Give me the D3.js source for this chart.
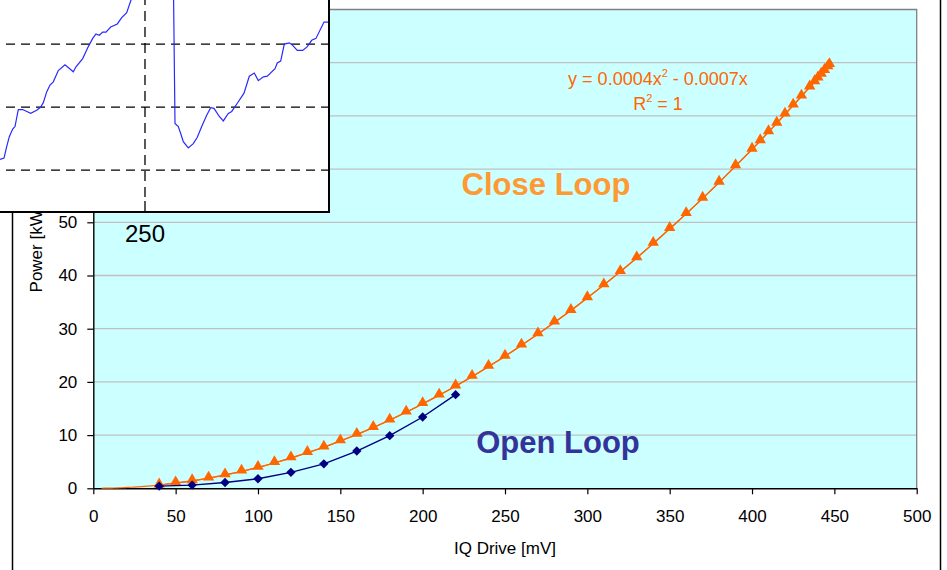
<!DOCTYPE html>
<html>
<head>
<meta charset="utf-8">
<script src="https://cdn.jsdelivr.net/npm/d3@7"></script>
<style>
  body { margin: 0; background: #fff; }
  svg { display: block; }
  text { font-family: "Liberation Sans", Arial, Helvetica, sans-serif; }
</style>
</head>
<body>
<svg id="chart" width="947" height="570"></svg>
<script>
// ---- data ----
// Open-loop measurement: IQ drive [mV] vs. output power [kW]
const driveOpen = [40, 60, 80, 100, 120, 140, 160, 180, 200, 220];
const powerOpen = [0.4, 0.6, 1.1, 1.8, 3.0, 4.6, 7.0, 9.9, 13.4, 17.6];

// Closed-loop measurement
const driveClose = [40, 50, 60, 70, 80, 90, 100, 110, 120, 130, 140, 150, 160, 170, 180, 190,
  200, 210, 220, 230, 240, 250, 260, 270, 280, 290, 300, 310, 320, 330, 340, 350, 360, 370,
  380, 390, 400, 405, 410, 415, 420, 425, 430, 435, 438, 440, 442, 444, 446, 447];
const powerClose = [0.6, 1.0, 1.4, 1.9, 2.5, 3.2, 3.9, 4.8, 5.7, 6.7, 7.7, 8.9, 10.1, 11.4,
  12.8, 14.3, 15.9, 17.5, 19.2, 21.0, 22.9, 24.8, 26.9, 29.0, 31.2, 33.4, 35.8, 38.2, 40.7,
  43.3, 46.0, 48.8, 51.6, 54.5, 57.5, 60.6, 63.7, 65.3, 67.0, 68.6, 70.3, 72.0, 73.7, 75.4,
  76.4, 77.1, 77.8, 78.5, 79.2, 79.6];

// Polynomial trendline of the closed-loop series: y = fitA*x^2 + fitB*x
const fitA = 0.0004, fitB = -0.0007;
const trendStart = 5;

const xTickValues = [0, 50, 100, 150, 200, 250, 300, 350, 400, 450, 500];
const yTickValues = [0, 10, 20, 30, 40, 50, 60, 70, 80, 90];

// Trace shown in the overlaid panel (time axis, signal level)
const traceX = [105, 109, 111.7, 114.3, 117.7, 120, 123.3, 127.7, 135.7, 141.7, 145.7, 148.3,
  151.7, 155, 158.3, 163.3, 170, 178.3, 181, 187.7, 193.3, 197.7, 201, 204.3, 207.7, 211,
  215.7, 222.3, 226.7, 231.7, 236, 241, 251, 263, 275, 277.7, 280, 283.3, 285.7, 288.3, 293.3,
  298.3, 302.3, 306.7, 311.7, 315.7, 319, 324.3, 328.3, 333.3, 336.7, 342.3, 349, 354.3,
  359.3, 363.3, 368.3, 372.3, 380, 382.3, 385.7, 389.3, 394.3, 397.7, 402.3, 407.7, 412.3,
  416.7, 421, 429, 432.3, 436.7];
const traceY = [1.17, 1.19, 1.37, 1.53, 1.65, 1.69, 1.96, 1.96, 1.90, 1.95, 2.00, 2.07,
  2.24, 2.35, 2.40, 2.58, 2.67, 2.56, 2.64, 2.77, 2.96, 3.09, 3.16, 3.14, 3.19, 3.19,
  3.27, 3.32, 3.42, 3.50, 3.70, 4.02, 4.49, 4.81, 4.97, 4.98, 1.74, 1.69, 1.58, 1.45, 1.35,
  1.42, 1.52, 1.69, 1.87, 1.99, 1.98, 1.85, 1.78, 1.90, 1.93, 2.06, 2.22, 2.49, 2.54,
  2.42, 2.48, 2.49, 2.61, 2.70, 2.73, 3.00, 3.02, 2.98, 2.90, 2.90, 2.96, 3.06, 3.09,
  3.35, 3.35, 3.33];
const traceGrid = [1, 2, 3];
const traceMark = 250;

// ---- main chart ----
const svg = d3.select("#chart");
const W = 947, H = 570;
const plot = { left: 93.3, right: 916.7, top: 9.5, bottom: 488.3 };

const x = d3.scaleLinear().domain([0, 500]).range([plot.left, plot.right]);
const y = d3.scaleLinear().domain([0, 90]).range([plot.bottom, plot.top]);

svg.append("rect").attr("width", W).attr("height", H).attr("fill", "#fff");

// outer frame sides
svg.append("line").attr("x1", 12.5).attr("x2", 12.5).attr("y1", 0).attr("y2", H)
  .attr("stroke", "#000").attr("stroke-width", 1.5);
svg.append("line").attr("x1", 940.5).attr("x2", 940.5).attr("y1", 0).attr("y2", H)
  .attr("stroke", "#000").attr("stroke-width", 1.5);

// plot area
svg.append("rect")
  .attr("x", plot.left).attr("y", plot.top)
  .attr("width", plot.right - plot.left).attr("height", plot.bottom - plot.top)
  .attr("fill", "#CCFFFF");

svg.append("g").selectAll("line")
  .data(yTickValues.filter(v => v > 0 && v < 90))
  .join("line")
  .attr("x1", plot.left).attr("x2", plot.right)
  .attr("y1", d => y(d)).attr("y2", d => y(d))
  .attr("stroke", "#C0C0C0").attr("stroke-width", 1.3);

// plot border (top / right)
svg.append("path")
  .attr("d", `M${plot.left},${y(90)}H${plot.right}V${plot.bottom}`)
  .attr("fill", "none").attr("stroke", "#808080").attr("stroke-width", 1.3);

// axes
const xAxis = svg.append("g")
  .attr("transform", `translate(0,${plot.bottom})`)
  .call(d3.axisBottom(x).tickValues(xTickValues).tickSize(6).tickSizeOuter(0).tickPadding(16));
const yAxis = svg.append("g")
  .attr("transform", `translate(${plot.left},0)`)
  .call(d3.axisLeft(y).tickValues(yTickValues).tickSize(6).tickSizeOuter(0).tickPadding(10));
[xAxis, yAxis].forEach(g => {
  g.selectAll("text").attr("font-size", 17).attr("fill", "#000")
    .attr("font-family", '"Liberation Sans", Arial, sans-serif');
  g.selectAll("line").attr("stroke", "#000").attr("stroke-width", 1.2);
  g.select(".domain").attr("stroke", "#000").attr("stroke-width", 1.4);
});

svg.append("text")
  .attr("x", (plot.left + plot.right) / 2).attr("y", 554)
  .attr("text-anchor", "middle").attr("font-size", 17).text("IQ Drive [mV]");
svg.append("text")
  .attr("transform", `translate(42,249) rotate(-90)`)
  .attr("text-anchor", "middle").attr("font-size", 17).text("Power [kW]");

// trendline
const trendX = d3.range(trendStart, driveClose[driveClose.length - 1], 2)
  .concat([driveClose[driveClose.length - 1]]);
svg.append("path")
  .datum(trendX)
  .attr("fill", "none").attr("stroke", "#FF6600").attr("stroke-width", 1.2)
  .attr("d", d3.line().x(d => x(d)).y(d => y(fitA * d * d + fitB * d)));

// closed-loop series
const closePts = driveClose.map((d, i) => [d, powerClose[i]]);
svg.append("path")
  .datum(closePts)
  .attr("fill", "none").attr("stroke", "#FF6600").attr("stroke-width", 1.3)
  .attr("d", d3.line().x(d => x(d[0])).y(d => y(d[1])));
svg.append("g").selectAll("path")
  .data(closePts)
  .join("path")
  .attr("transform", d => `translate(${x(d[0])},${y(d[1]) - 1})`)
  .attr("d", d3.symbol(d3.symbolTriangle, 56))
  .attr("fill", "#FF6600");

// open-loop series
const openPts = driveOpen.map((d, i) => [d, powerOpen[i]]);
svg.append("path")
  .datum(openPts)
  .attr("fill", "none").attr("stroke", "#000080").attr("stroke-width", 1.4)
  .attr("d", d3.line().x(d => x(d[0])).y(d => y(d[1])));
svg.append("g").selectAll("path")
  .data(openPts)
  .join("path")
  .attr("transform", d => `translate(${x(d[0])},${y(d[1])}) rotate(45)`)
  .attr("d", d3.symbol(d3.symbolSquare, 44))
  .attr("fill", "#000080");

// annotations
svg.append("text").attr("x", 546).attr("y", 195).attr("text-anchor", "middle")
  .attr("font-size", 31).attr("font-weight", "bold").attr("fill", "#FF9933").text("Close Loop");
svg.append("text").attr("x", 558).attr("y", 452.5).attr("text-anchor", "middle")
  .attr("font-size", 31).attr("font-weight", "bold").attr("fill", "#333399").text("Open Loop");

const eq = svg.append("text").attr("x", 658).attr("y", 85).attr("text-anchor", "middle")
  .attr("font-size", 18).attr("fill", "#FF6600");
eq.append("tspan").text(`y = ${fitA}x`);
eq.append("tspan").attr("font-size", 11).attr("dy", -8).text("2");
eq.append("tspan").attr("dy", 8).text(` - ${Math.abs(fitB)}x`);
const r2 = svg.append("text").attr("x", 658).attr("y", 110).attr("text-anchor", "middle")
  .attr("font-size", 18).attr("fill", "#FF6600");
r2.append("tspan").text("R");
r2.append("tspan").attr("font-size", 11).attr("dy", -8).text("2");
r2.append("tspan").attr("dy", 8).text(" = 1");

// ---- overlaid trace panel ----
const panel = { left: 0, right: 329, top: 0, bottom: 212 };
const px = d3.scaleLinear().domain([105, 434]).range([panel.left, panel.right]);
const py = d3.scaleLinear().domain([0, 3.7]).range([233, 0]);

const inset = svg.append("g");
inset.append("rect")
  .attr("x", -5).attr("y", -5)
  .attr("width", panel.right + 5).attr("height", panel.bottom + 5)
  .attr("fill", "#fff");

inset.append("clipPath").attr("id", "panelClip")
  .append("rect").attr("x", 0).attr("y", 0)
  .attr("width", panel.right).attr("height", panel.bottom);

const inner = inset.append("g").attr("clip-path", "url(#panelClip)");
inner.selectAll("line.h")
  .data(traceGrid)
  .join("line").attr("class", "h")
  .attr("x1", panel.left).attr("x2", panel.right)
  .attr("y1", d => py(d)).attr("y2", d => py(d))
  .attr("stroke", "#000").attr("stroke-width", 1.3)
  .attr("stroke-dasharray", "9,6").attr("stroke-dashoffset", 9);
inner.append("line")
  .attr("x1", px(traceMark)).attr("x2", px(traceMark))
  .attr("y1", panel.top).attr("y2", panel.bottom - 11)
  .attr("stroke", "#000").attr("stroke-width", 1.3)
  .attr("stroke-dasharray", "10,6").attr("stroke-dashoffset", 5);
inner.append("line")
  .attr("x1", px(traceMark)).attr("x2", px(traceMark))
  .attr("y1", panel.bottom - 11).attr("y2", panel.bottom)
  .attr("stroke", "#000").attr("stroke-width", 1.3);
inner.append("path")
  .datum(traceX.map((d, i) => [d, traceY[i]]))
  .attr("fill", "none").attr("stroke", "#2929FF").attr("stroke-width", 1.2)
  .attr("d", d3.line().x(d => px(d[0])).y(d => py(d[1])));

inset.append("path")
  .attr("d", `M${panel.left - 5},${panel.bottom}H${panel.right}V${panel.top - 5}`)
  .attr("fill", "none").attr("stroke", "#000").attr("stroke-width", 2);

svg.append("text")
  .attr("x", px(traceMark)).attr("y", 242)
  .attr("text-anchor", "middle").attr("font-size", 24).attr("fill", "#000")
  .text(String(traceMark));
</script>
</body>
</html>
